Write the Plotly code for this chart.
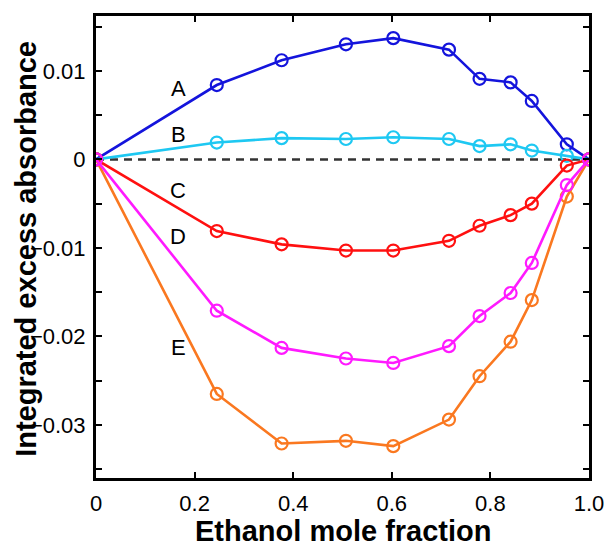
import plotly.graph_objects as go

x = [0, 0.245, 0.3765, 0.507, 0.603, 0.716, 0.778, 0.841, 0.884, 0.955, 1.0]
series_A = [0, 0.0084, 0.0112, 0.0130, 0.0137, 0.0124, 0.0091, 0.0087, 0.0066, 0.0017, 0]
series_B = [0, 0.0019, 0.0024, 0.0023, 0.0025, 0.0023, 0.0015, 0.0017, 0.0010, 0.0004, 0]
series_C = [0, -0.0081, -0.0096, -0.0103, -0.0103, -0.0092, -0.0075, -0.0063, -0.0050, -0.0007, 0]
series_D = [0, -0.0171, -0.0213, -0.0225, -0.0230, -0.0211, -0.0177, -0.0151, -0.0117, -0.0029, 0]
series_E = [0, -0.0265, -0.0321, -0.0318, -0.0324, -0.0294, -0.0245, -0.0206, -0.0159, -0.0042, 0]

names = ["A", "B", "C", "D", "E"]
label_x = [0.1666, 0.1666, 0.1666, 0.1666, 0.1666]
label_y = [0.0080, 0.00285, -0.0035, -0.0087, -0.0213]

x_ticks = [0, 0.2, 0.4, 0.6, 0.8, 1.0]
x_ticktext = ["0", "0.2", "0.4", "0.6", "0.8", "1.0"]
y_ticks = [-0.035, -0.03, -0.025, -0.02, -0.015, -0.01, -0.005, 0, 0.005, 0.01, 0.015]
y_ticktext = ["", "\u22120.03", "", "\u22120.02", "", "\u22120.01", "", "0", "", "0.01", ""]

x_title = "Ethanol mole fraction"
y_title = "Integrated excess absorbance"

colors = {"A": "#1414dc", "B": "#1ec8f2", "C": "#ff1010", "D": "#ff1aff", "E": "#fa7820"}
data = {"A": series_A, "B": series_B, "C": series_C, "D": series_D, "E": series_E}

FONT = "Liberation Sans, Arial, sans-serif"

fig = go.Figure()
fig.add_trace(go.Scatter(x=[0, 1], y=[0, 0], mode="lines",
                         line=dict(color="#333333", width=2.5, dash="8px,6px"),
                         showlegend=False, hoverinfo="skip"))
for n in ["A", "B", "C", "E", "D"]:
    fig.add_trace(go.Scatter(
        x=x, y=data[n], mode="lines+markers", name=n, showlegend=False,
        line=dict(color=colors[n], width=2.6),
        marker=dict(symbol="circle-open", size=12, color=colors[n],
                    line=dict(color=colors[n], width=2.2)),
    ))

for n, lx, ly in zip(names, label_x, label_y):
    fig.add_annotation(x=lx, y=ly, text=n, showarrow=False,
                       font=dict(family=FONT, size=22, color="black"))

# axis titles
fig.add_annotation(xref="paper", yref="paper", x=0.5, y=-0.115, text="<b>" + x_title + "</b>",
                   showarrow=False, xanchor="center", yanchor="middle",
                   font=dict(family=FONT, size=29, color="black"))
fig.add_annotation(xref="paper", yref="paper", x=-0.141, y=0.497, text="<b>" + y_title + "</b>",
                   showarrow=False, xanchor="center", yanchor="middle", textangle=-90,
                   font=dict(family=FONT, size=29, color="black"))

fig.update_layout(
    width=616, height=547,
    margin=dict(l=96, r=17, t=16, b=69),
    paper_bgcolor="white", plot_bgcolor="white",
    font=dict(family=FONT, size=22, color="black"),
)
fig.update_xaxes(
    range=[0, 1], tickvals=x_ticks, ticktext=x_ticktext,
    ticks="inside", ticklen=6, tickwidth=2, tickcolor="black",
    showline=True, linewidth=3, linecolor="black", mirror="ticks",
    showgrid=False, zeroline=False, ticklabelstandoff=4,
    tickfont=dict(size=22),
)
fig.update_yaxes(
    range=[-0.0360, 0.0162], tickvals=y_ticks, ticktext=y_ticktext,
    ticks="inside", ticklen=6, tickwidth=2, tickcolor="black",
    showline=True, linewidth=3, linecolor="black", mirror="ticks",
    showgrid=False, zeroline=False, ticklabelstandoff=3,
    tickfont=dict(size=22),
)

fig.write_html("out.html")
